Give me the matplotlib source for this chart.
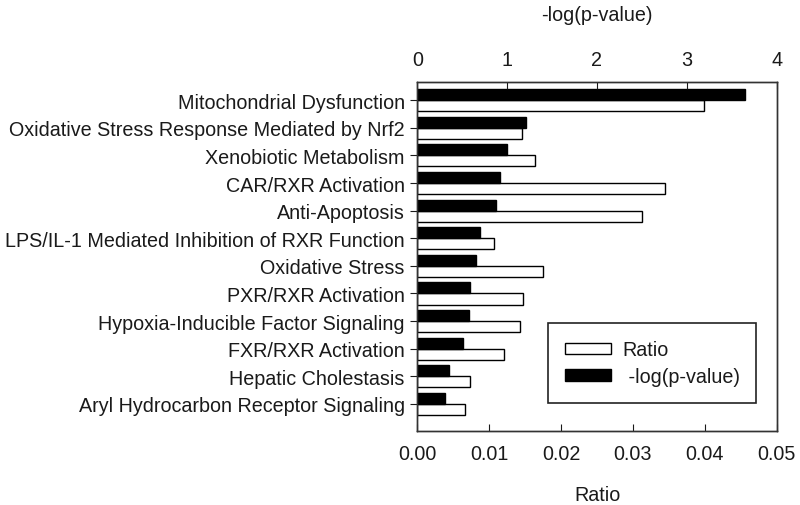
import numpy as np
import matplotlib
matplotlib.use("Agg")
import matplotlib.pyplot as plt

plt.rcParams['font.family'] = ['Liberation Sans', 'DejaVu Sans']

pathways = [
    "Mitochondrial Dysfunction",
    "Oxidative Stress Response Mediated by Nrf2",
    "Xenobiotic Metabolism",
    "CAR/RXR Activation",
    "Anti-Apoptosis",
    "LPS/IL-1 Mediated Inhibition of RXR Function",
    "Oxidative Stress",
    "PXR/RXR Activation",
    "Hypoxia-Inducible Factor Signaling",
    "FXR/RXR Activation",
    "Hepatic Cholestasis",
    "Aryl Hydrocarbon Receptor Signaling",
]
ratio = [0.0399, 0.0146, 0.0164, 0.0345, 0.0312, 0.0107,
         0.0175, 0.0147, 0.0143, 0.0120, 0.0074, 0.0066]
neglogp = [3.65, 1.21, 1.00, 0.92, 0.88, 0.70,
           0.65, 0.59, 0.57, 0.51, 0.35, 0.31]

txt = '#1a1a1a'
fs = 14.2
y = np.arange(len(pathways))
h = 0.4

fig = plt.figure(figsize=(8, 5.06), dpi=100)
ax = fig.add_axes([0.5216, 0.1457, 0.4493, 0.6909])
ax2 = ax.twiny()

b1 = ax.barh(y + h / 2, ratio, height=h, color='white', edgecolor='black',
             linewidth=1.0, label='Ratio')
b2 = ax2.barh(y - h / 2, neglogp, height=h, color='black', edgecolor='black',
              linewidth=1.0, label=' -log(p-value)')

ax.set_xlim(0, 0.05)
ax2.set_xlim(0, 4)
ax.set_ylim(11.99, -0.67)
ax2.set_ylim(11.99, -0.67)

ax.set_xticks([0, 0.01, 0.02, 0.03, 0.04, 0.05])
ax.set_xticklabels(['0.00', '0.01', '0.02', '0.03', '0.04', '0.05'])
ax2.set_xticks([0, 1, 2, 3, 4])
ax.set_yticks(y)
ax.set_yticklabels(pathways)

ax.tick_params(axis='x', direction='in', length=5, pad=9, labelsize=fs, colors=txt)
ax.tick_params(axis='y', direction='out', length=5, pad=4, labelsize=fs, colors=txt)
ax2.tick_params(axis='x', direction='in', length=5, pad=9, labelsize=fs, colors=txt)

for a in (ax, ax2):
    for s in a.spines.values():
        s.set_linewidth(1.0)
        s.set_color('#333333')

ax.set_xlabel('Ratio', fontsize=fs, color=txt, labelpad=16)
ax2.set_xlabel('-log(p-value)', fontsize=fs, color=txt, labelpad=22)

leg = ax2.legend([b1, b2], ['Ratio', ' -log(p-value)'], loc='center',
                 bbox_to_anchor=(0.363, 0.0875, 0.579, 0.215), mode='expand',
                 fontsize=fs, frameon=True, fancybox=False, framealpha=1,
                 edgecolor='#222222', handlelength=2.35, handleheight=0.5,
                 labelspacing=0.4, borderpad=0.85, handletextpad=0.6,
                 borderaxespad=0)
leg.get_frame().set_linewidth(1.2)
for t in leg.get_texts():
    t.set_color(txt)

fig.savefig('out.png', dpi=100)
